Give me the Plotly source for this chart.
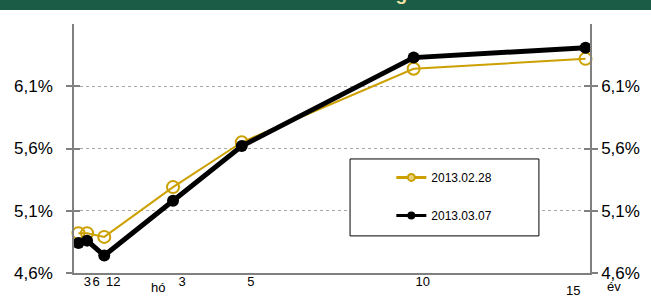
import plotly.graph_objects as go

# ---- data ----
maturity_years = [0.25, 0.5, 1, 3, 5, 10, 15]
yield_2013_02_28 = [4.92, 4.92, 4.89, 5.29, 5.65, 6.24, 6.32]
yield_2013_03_07 = [4.84, 4.86, 4.74, 5.18, 5.62, 6.33, 6.41]
series_names = ["2013.02.28", "2013.03.07"]
x_tick_vals = [0.25, 0.5, 1, 3, 5, 10]
x_tick_text = ["3", "6", "12", "3", "5", "10"]
y_tick_vals = [4.6, 5.1, 5.6, 6.1]
y_tick_text = ["4,6%", "5,1%", "5,6%", "6,1%"]
title_text = "Referencia hozamgörbe"

GOLD = "#CCA000"
AXIS = "#808080"
FONT = "Liberation Sans, Arial, sans-serif"

fig = go.Figure()
fig.add_trace(go.Scatter(
    x=maturity_years, y=yield_2013_02_28, mode="lines+markers", name=series_names[0],
    line=dict(color=GOLD, width=2),
    marker=dict(symbol="circle-open", size=12, color=GOLD, line=dict(width=2, color=GOLD)),
    showlegend=False, cliponaxis=False, yaxis="y"))
fig.add_trace(go.Scatter(
    x=maturity_years, y=yield_2013_03_07, mode="lines+markers", name=series_names[1],
    line=dict(color="black", width=5),
    marker=dict(size=12, color="black"),
    showlegend=False, cliponaxis=False, yaxis="y2"))
# legend entries
fig.add_trace(go.Scatter(
    x=[None], y=[None], mode="lines+markers", name=series_names[0], legendgroup="a",
    line=dict(color=GOLD, width=3),
    marker=dict(symbol="circle", size=7, color="#E8D080", line=dict(width=2, color=GOLD))))
fig.add_trace(go.Scatter(
    x=[None], y=[None], mode="lines+markers", name=series_names[1], legendgroup="b",
    line=dict(color="black", width=3),
    marker=dict(size=8, color="black"), yaxis="y2"))
# carrier for inside-tick axis
fig.add_trace(go.Scatter(x=[None], y=[None], showlegend=False, yaxis="y3", hoverinfo="skip"))

yr = [4.6, 6.6]
fig.update_layout(
    width=651, height=296,
    margin=dict(l=74, r=61, t=24, b=23, autoexpand=False),
    paper_bgcolor="white", plot_bgcolor="white",
    font=dict(family=FONT, color="black"),
    xaxis=dict(range=[0.12, 15.13], showline=True, linecolor=AXIS, linewidth=1.5,
               showgrid=False, zeroline=False, ticks="", automargin=False,
               tickvals=x_tick_vals, ticktext=x_tick_text, tickangle=0,
               tickfont=dict(size=13, family=FONT), ticklabelshift=9, ticklabelstandoff=-4),
    yaxis=dict(range=yr, tickvals=y_tick_vals, ticktext=y_tick_text, automargin=False,
               ticks="outside", ticklen=6, tickcolor=AXIS, tickwidth=1.5,
               showline=True, linecolor=AXIS, linewidth=1.5, ticklabelstandoff=10,
               showgrid=True, gridcolor="#A8A8A8", griddash="dot", gridwidth=1,
               zeroline=False, tickfont=dict(size=17, family=FONT)),
    yaxis2=dict(range=yr, overlaying="y", side="right", tickvals=y_tick_vals, ticktext=y_tick_text,
                ticks="outside", ticklen=6, tickcolor=AXIS, tickwidth=1.5, automargin=False,
                showline=True, linecolor=AXIS, linewidth=1.5,
                showgrid=False, zeroline=False, tickfont=dict(size=17, family=FONT)),
    yaxis3=dict(range=yr, overlaying="y", side="left", tickvals=y_tick_vals, automargin=False,
                ticks="inside", ticklen=6, tickcolor=AXIS, tickwidth=1.5, mirror="ticks",
                showline=True, linecolor=AXIS, linewidth=1.5,
                showticklabels=False, showgrid=False, zeroline=False),
    legend=dict(x=0.615, y=0.442, xanchor="left", yanchor="top",
                bgcolor="rgba(0,0,0,0)", borderwidth=0, tracegroupgap=19,
                font=dict(size=12, family=FONT, color="black")),
    showlegend=True,
    shapes=[
        dict(type="rect", xref="paper", yref="paper", x0=-0.2, x1=1.2, y0=1.0562, y1=1.2,
             fillcolor="#1A5C45", line=dict(width=0), layer="above"),
        dict(type="rect", xref="paper", yref="paper", x0=0.535, x1=0.901, y0=0.149, y1=0.458,
             fillcolor="white", line=dict(color="black", width=1), layer="above"),
    ],
    annotations=[
        dict(text=title_text, xref="paper", yref="paper", x=0.517, y=1.072,
             xanchor="center", yanchor="bottom", showarrow=False,
             font=dict(size=19, family=FONT, color="#F2E3A6", weight="bold")),
        dict(text="hó", xref="paper", yref="paper", x=0.145, y=0, yanchor="middle",
             yshift=-14, showarrow=False, font=dict(size=13, family=FONT)),
        dict(text="15", xref="x", yref="paper", x=15, y=0, yanchor="middle",
             xshift=-13, yshift=-17, showarrow=False, font=dict(size=13, family=FONT)),
        dict(text="év", xref="paper", yref="paper", x=1.064, y=0, yanchor="middle",
             yshift=-13, showarrow=False, font=dict(size=13, family=FONT)),
    ],
)

fig.write_html("out.html", config={"displayModeBar": False},
               post_script="document.body.style.margin='0';")
